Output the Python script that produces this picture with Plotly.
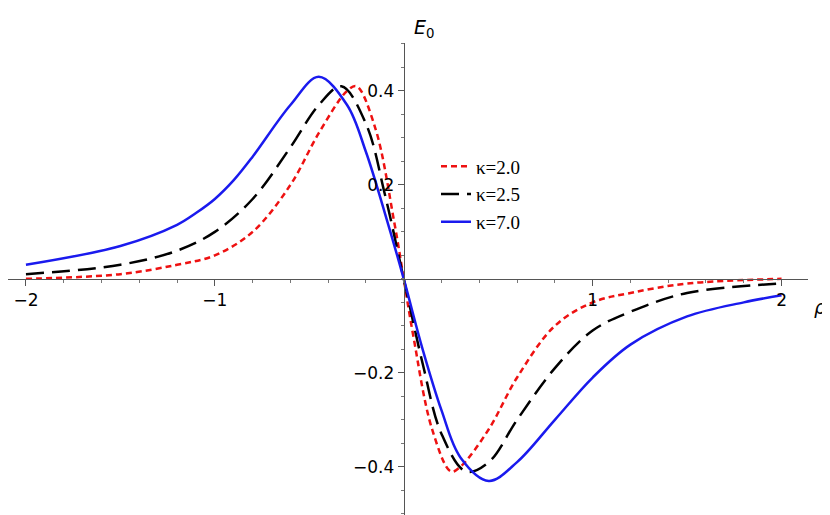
import plotly.graph_objects as go

rho_b = [-2,-1.5,-1.2,-1.1,-1,-0.9,-0.8,-0.6,-0.45,-0.3,-0.2,-0.1,0,0.1,0.2,0.3,0.45,0.6,0.8,1.0,1.2,1.5,1.8,2]
e_b = [0.03,0.07,0.115,0.14,0.17,0.21,0.26,0.37,0.43,0.37,0.27,0.14,0,-0.15,-0.28,-0.38,-0.43,-0.39,-0.30,-0.21,-0.14,-0.08,-0.05,-0.035]
rho_k = [-2,-1.5,-1.2,-1,-0.8,-0.6,-0.45,-0.33,-0.2,-0.1,0,0.1,0.2,0.33,0.45,0.6,0.8,1.0,1.2,1.5,2]
e_k = [0.01,0.03,0.06,0.10,0.17,0.28,0.37,0.41,0.33,0.18,0,-0.18,-0.33,-0.41,-0.39,-0.30,-0.19,-0.11,-0.07,-0.03,-0.01]
rho_r = [-2,-1.5,-1.2,-1,-0.8,-0.6,-0.45,-0.3,-0.25,-0.15,-0.05,0,0.05,0.15,0.25,0.3,0.45,0.6,0.8,1.0,1.2,1.5,2]
e_r = [0.0,0.01,0.03,0.05,0.10,0.20,0.31,0.40,0.41,0.32,0.12,0,-0.12,-0.32,-0.41,-0.40,-0.32,-0.21,-0.10,-0.05,-0.03,-0.01,0.0]

xr = [-2.095, 2.14]
yr = [-0.509, 0.502]
xpos = (0 - xr[0]) / (xr[1] - xr[0])
ypos = (0 - yr[0]) / (yr[1] - yr[0])

fig = go.Figure()
fig.add_trace(go.Scatter(x=rho_r, y=e_r, mode="lines", line=dict(color="#ee1111", width=2.5, dash="6px,4px", shape="spline"), name="κ=2.0"))
fig.add_trace(go.Scatter(x=rho_k, y=e_k, mode="lines", line=dict(color="black", width=2.5, dash="18px,8px", shape="spline"), name="κ=2.5"))
fig.add_trace(go.Scatter(x=rho_b, y=e_b, mode="lines", line=dict(color="#1a1aee", width=2.5, shape="spline"), name="κ=7.0"))

fig.update_layout(
    width=830, height=515, plot_bgcolor="white", paper_bgcolor="white",
    margin=dict(l=0, r=30, t=35, b=5, autoexpand=False),
    font=dict(family="DejaVu Sans", size=17, color="black"),
    legend=dict(x=0.535, y=0.78, xanchor="left", yanchor="top", font=dict(family="Liberation Serif", size=19), bgcolor="rgba(0,0,0,0)"),
    xaxis=dict(range=xr, anchor="free", position=ypos, showline=True, linecolor="#555", zeroline=False, showgrid=False,
               tickvals=[-2,-1,1,2], ticktext=["−2","−1","1","2"], ticks="outside", ticklen=6, tickcolor="#555",
               minor=dict(dtick=0.2, ticks="outside", ticklen=3, tickcolor="#777")),
    yaxis=dict(range=yr, anchor="free", position=xpos, showline=True, linecolor="#555", zeroline=False, showgrid=False,
               tickvals=[-0.4,-0.2,0.2,0.4], ticktext=["−0.4","−0.2","0.2","0.4"], ticks="outside", ticklen=6, tickcolor="#555",
               minor=dict(dtick=0.05, ticks="outside", ticklen=3, tickcolor="#777")),
    annotations=[
        dict(text="<i>E</i><sub>0</sub>", x=0.0, y=0.502, xref="x", yref="y", xanchor="left", yanchor="bottom", xshift=8, showarrow=False, font=dict(size=19)),
        dict(text="<i>ρ</i>", x=2.14, y=0, xref="x", yref="y", xanchor="left", yanchor="top", xshift=4, yshift=-15, showarrow=False, font=dict(size=19)),
    ],
)
fig.write_html("out.html")
